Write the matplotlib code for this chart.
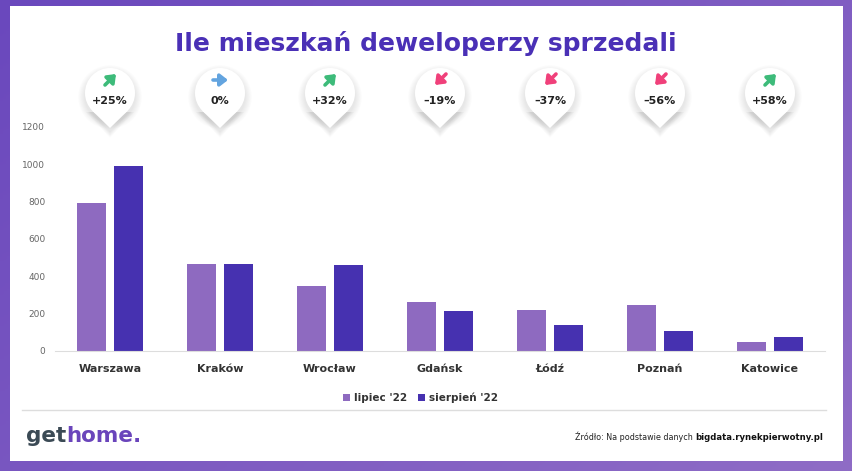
import matplotlib
matplotlib.use("Agg")
import matplotlib.pyplot as plt
import numpy as np
from matplotlib.patches import Circle, Polygon, Rectangle
from matplotlib.colors import LinearSegmentedColormap

cities = ["Warszawa", "Kraków", "Wrocław", "Gdańsk", "Łódź", "Poznań", "Katowice"]
lipiec = [793, 466, 348, 262, 220, 246, 48]
sierpien = [991, 466, 460, 212, 138, 108, 76]
changes = ["+25%", "0%", "+32%", "-19%", "-37%", "-56%", "+58%"]
yticks = [0, 200, 400, 600, 800, 1000, 1200]

C_LIP = "#8e6ac0"
C_SIE = "#4631b0"
C_TITLE = "#4a30b6"

W, H = 852, 471
fig = plt.figure(figsize=(W / 100, H / 100), dpi=100)

# background: purple gradient frame + white card
bg = fig.add_axes([0, 0, 1, 1], zorder=-5)
bg.set_xlim(0, W)
bg.set_ylim(H, 0)
bg.axis("off")
cmap = LinearSegmentedColormap.from_list("frame", ["#6a48bd", "#8f6cc6"])
grad = np.linspace(0, 1, 256).reshape(-1, 1) * 0.6 + np.linspace(0, 1, 256).reshape(1, -1) * 0.4
bg.imshow(grad.T, cmap=cmap, extent=[0, W, H, 0], aspect="auto")
bg.add_patch(Rectangle((10, 6), 833, 455, facecolor="white", edgecolor="none"))
bg.plot([22, 826], [410, 410], color="#dddddd", lw=1)

# main bar chart
ax = fig.add_axes([55 / W, (H - 351) / H, 770 / W, 224 / H])
x = np.arange(len(cities))
bw = 0.265
off = 0.168
ax.bar(x - off, lipiec, bw, color=C_LIP, label="lipiec '22", zorder=2)
ax.bar(x + off, sierpien, bw, color=C_SIE, label="sierpień '22", zorder=2)
ax.set_xlim(-0.5, len(cities) - 0.5)
ax.set_ylim(0, 1200)
ax.set_yticks(yticks)
ax.set_yticklabels([str(v) for v in yticks], fontsize=6.5, color="#666666")
ax.set_xticks(x)
ax.set_xticklabels(cities, fontsize=8, fontweight="bold", color="#333333")
ax.tick_params(axis="both", length=0)
ax.tick_params(axis="y", pad=7)
ax.tick_params(axis="x", pad=9)
for s in ["top", "right", "left"]:
    ax.spines[s].set_visible(False)
ax.spines["bottom"].set_color("#dddddd")
ax.patch.set_alpha(0)

leg = ax.legend(loc="upper center", bbox_to_anchor=(0.475, -0.145), ncol=2, frameon=False,
                fontsize=7.5, handlelength=0.7, handleheight=0.7, handletextpad=0.4,
                columnspacing=1.0)
for t in leg.get_texts():
    t.set_fontweight("bold")
    t.set_color("#333333")

# title
fig.text(426 / W, 1 - 43 / H, "Ile mieszkań deweloperzy sprzedali", ha="center", va="center",
         fontsize=18, fontweight="bold", color=C_TITLE)

# pins with change labels
ov = fig.add_axes([0, 0, 1, 1], zorder=4)
ov.set_xlim(0, W)
ov.set_ylim(H, 0)
ov.axis("off")
fig.canvas.draw()
for i, ch in enumerate(changes):
    px = ax.transData.transform((x[i], 0))[0]
    cx, cy, r, tip = px, 93, 25, 128
    # soft shadow
    for k in range(8):
        g = 1 + k * 1.5
        ov.add_patch(Circle((cx, cy + 4), r + g * 0.6, facecolor="#000000", alpha=0.012, lw=0))
        ov.add_patch(Polygon([(cx - r * 0.75 - g * 0.5, cy + r * 0.6 + 4), (cx + r * 0.75 + g * 0.5, cy + r * 0.6 + 4),
                              (cx, tip + 4 + g * 0.5)], closed=True, facecolor="#000000", alpha=0.012, lw=0))
    ov.add_patch(Circle((cx, cy), r, facecolor="white", lw=0))
    ov.add_patch(Polygon([(cx - r * 0.72, cy + r * 0.7), (cx + r * 0.72, cy + r * 0.7), (cx, tip)],
                         closed=True, facecolor="white", lw=0))
    v = float(ch.replace("%", ""))
    if v > 0:
        col, a0, a1 = "#3dbb7a", (cx - 5, 85), (cx + 6, 74)
    elif v < 0:
        col, a0, a1 = "#f0407a", (cx + 6, 74), (cx - 5, 85)
    else:
        col, a0, a1 = "#63a4df", (cx - 7, 80), (cx + 8, 80)
    ov.annotate("", xy=a1, xytext=a0,
                arrowprops=dict(arrowstyle="-|>,head_length=0.45,head_width=0.35", color=col, lw=2.6,
                                shrinkA=0, shrinkB=0))
    ov.text(cx, 101, ch.replace("-", "\u2013"), ha="center", va="center", fontsize=8,
            fontweight="bold", color="#222222")

# footer
fig.text(26 / W, 1 - 436 / H, "get", ha="left", va="center", fontsize=15.5, fontweight="bold", color="#3b4a55")
fig.canvas.draw()
tb = fig.texts[-1].get_window_extent()
fig.text(tb.x1 / W, 1 - 436 / H, "home.", ha="left", va="center", fontsize=15.5, fontweight="bold", color="#6a45bb")
src_norm = fig.text(823 / W, 1 - 437 / H, "Źródło: Na podstawie danych ", ha="right", va="center",
                    fontsize=5.8, color="#222222")
src_bold = fig.text(823 / W, 1 - 437 / H, "bigdata.rynekpierwotny.pl", ha="right", va="center",
                    fontsize=6.1, fontweight="bold", color="#111111")
fig.canvas.draw()
sb = src_bold.get_window_extent()
src_norm.set_x(sb.x0 / W)

fig.savefig("out.png", dpi=100)
